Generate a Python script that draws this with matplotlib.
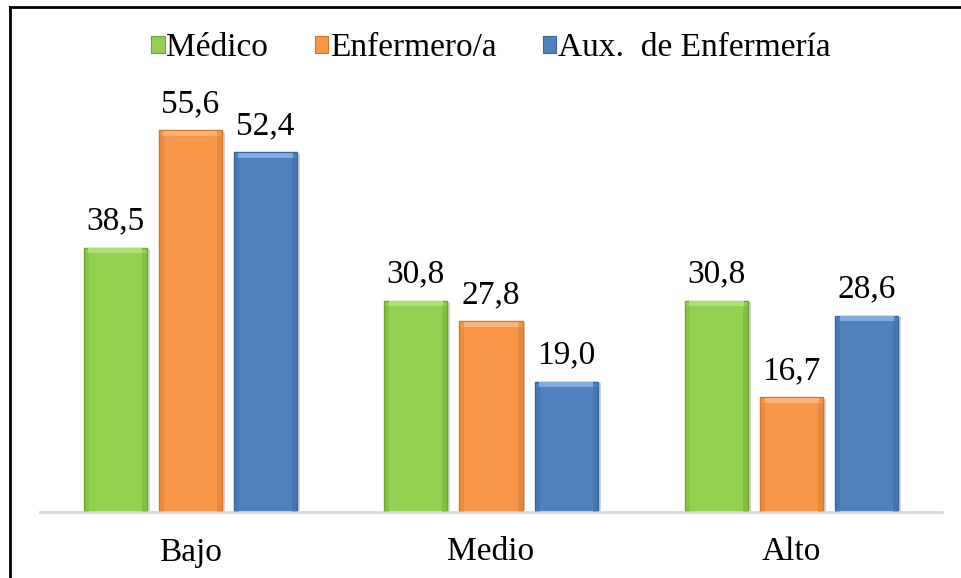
import numpy as np
import matplotlib
matplotlib.use("Agg")
import matplotlib.pyplot as plt
import matplotlib.patheffects as pe
from matplotlib.lines import Line2D
from matplotlib.patches import Patch

plt.rcParams['font.family'] = ['Liberation Serif', 'DejaVu Serif']

categories = ["Bajo", "Medio", "Alto"]
series = ["Médico", "Enfermero/a", "Aux.  de Enfermería"]
medico = [38.5, 30.8, 30.8]
enfermero = [55.6, 27.8, 16.7]
auxiliar = [52.4, 19.0, 28.6]

colors = ["#92D050", "#F79646", "#4F81BD"]
dark = ["#6FA52E", "#D2762A", "#3A659C"]
light = ["#ADE175", "#FBB478", "#82AADD"]

fig = plt.figure(figsize=(9.61, 5.78), dpi=100)
ax = fig.add_axes([40/961, 66/578, 902/961, 412/578])

x = np.arange(len(categories))
width = 0.21
step = 0.25
shadow = [pe.SimplePatchShadow(offset=(2, -1), shadow_rgbFace="#888888", alpha=0.35), pe.Normal()]

for i, vals in enumerate([medico, enfermero, auxiliar]):
    pos = x + (i - 1) * step
    ax.bar(pos, vals, width, color=colors[i], edgecolor=dark[i], linewidth=1.0,
           path_effects=shadow, zorder=2)
    # bevel: lighter cap and darker sides
    vals_arr = np.array(vals)
    ax.bar(pos, 0.7, width * 0.86, bottom=vals_arr - 0.8, color=light[i], linewidth=0, zorder=3)
    ax.bar(pos - width * 0.46, vals_arr - 0.8, width * 0.08, color=dark[i], alpha=0.3, linewidth=0, zorder=3)
    ax.bar(pos + width * 0.46, vals_arr - 0.8, width * 0.08, color=dark[i], alpha=0.4, linewidth=0, zorder=3)
    for p, v in zip(pos, vals):
        ax.annotate(f"{v:.1f}".replace(".", ","), (p, v), xytext=(0, 8),
                    textcoords="offset points", ha="center", va="bottom", fontsize=24)

ax.set_xlim(-0.5, 2.5)
ax.set_ylim(0, 60)
ax.set_xticks(x)
ax.set_xticklabels(categories, fontsize=24)
ax.tick_params(axis="x", length=0, pad=18)
ax.set_yticks([])
for s in ["top", "right", "left"]:
    ax.spines[s].set_visible(False)
ax.spines["bottom"].set_color("#D9D9D9")
ax.spines["bottom"].set_linewidth(2)

handles = [Patch(facecolor=c, edgecolor=d, linewidth=0.8) for c, d in zip(colors, dark)]
fig.legend(handles, series, loc="center", bbox_to_anchor=(491/961, 1 - 48/578), ncol=3,
           frameon=False, fontsize=24, handlelength=0.4, handleheight=0.4,
           handletextpad=0.05, columnspacing=1.4)

# cropped outer frame (top and left only)
fig.add_artist(Line2D([10/961, 1], [1 - 6.5/578, 1 - 6.5/578], color="black", linewidth=2))
fig.add_artist(Line2D([10/961, 10/961], [0, 1 - 6.5/578], color="black", linewidth=2))

fig.savefig("out.png", dpi=100)
